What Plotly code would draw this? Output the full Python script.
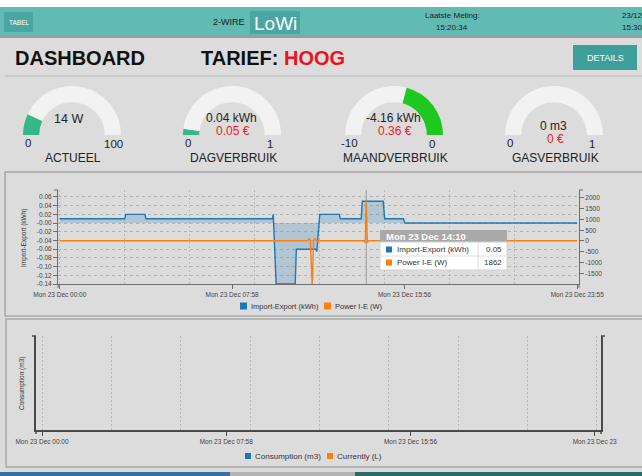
import plotly.graph_objects as go

W, H = 642, 476
FONT = "Liberation Sans, Arial, sans-serif"

# ---------------- data ----------------
gauge_names = ["ACTUEEL", "DAGVERBRUIK", "MAANDVERBRUIK", "GASVERBRUIK"]
gauge_values = [14, 0.04, -4.16, 0]
gauge_min = [0, 0, -10, 0]
gauge_max = [100, 1, 0, 1]
gauge_min_labels = ["0", "0", "-10", "0"]
gauge_max_labels = ["100", "1", "0", "1"]
gauge_texts = ["14 W", "0.04 kWh", "-4.16 kWh", "0 m3"]
gauge_costs = ["", "0.05 €", "0.36 €", "0 €"]
gauge_colors = ["#34b888", "#34b888", "#1ec81e", "#34b888"]

imp_times = ["2019-12-23 00:00", "2019-12-23 03:00", "2019-12-23 03:03", "2019-12-23 03:56",
             "2019-12-23 03:59", "2019-12-23 09:50", "2019-12-23 09:52", "2019-12-23 10:00",
             "2019-12-23 10:53", "2019-12-23 10:56", "2019-12-23 11:50", "2019-12-23 11:53",
             "2019-12-23 12:01", "2019-12-23 12:55", "2019-12-23 12:58", "2019-12-23 13:56",
             "2019-12-23 13:59", "2019-12-23 14:57", "2019-12-23 15:01", "2019-12-23 15:53",
             "2019-12-23 15:57", "2019-12-23 23:55"]
imp_vals = [0.01, 0.01, 0.02, 0.02, 0.01, 0.01, 0.02, -0.14, -0.14, -0.06, -0.06, -0.065,
            0.02, 0.02, 0.01, 0.01, 0.05, 0.05, 0.01, 0.01, 0.0, 0.0]

pow_times = ["2019-12-23 00:00", "2019-12-23 11:28", "2019-12-23 11:32", "2019-12-23 11:35",
             "2019-12-23 11:40", "2019-12-23 11:44", "2019-12-23 11:48", "2019-12-23 11:51",
             "2019-12-23 14:04", "2019-12-23 14:07", "2019-12-23 14:10", "2019-12-23 14:13",
             "2019-12-23 14:16", "2019-12-23 23:55"]
pow_vals = [10, 10, 120, 10, -2100, 10, 120, 10, 10, -90, 1862, -90, 10, 10]

x1_ticks = ["2019-12-23 00:00", "2019-12-23 07:58", "2019-12-23 15:56", "2019-12-23 23:55"]
x1_ticktext = ["Mon 23 Dec 00:00", "Mon 23 Dec 07:58", "Mon 23 Dec 15:56", "Mon 23 Dec 23:55"]
x2_ticks = ["2019-12-23 00:00", "2019-12-23 07:58", "2019-12-23 15:56", "2019-12-23 23:54"]
x2_ticktext = ["Mon 23 Dec 00:00", "Mon 23 Dec 07:58", "Mon 23 Dec 15:56", "Mon 23 Dec 23"]
y1_ticks = [0.06, 0.04, 0.02, 0.0, -0.02, -0.04, -0.06, -0.08, -0.10, -0.12, -0.14]
y1_ticktext = ["0.06", "0.04", "0.02", "-0.00", "-0.02", "-0.04", "-0.06", "-0.08", "-0.10", "-0.12", "-0.14"]
y2_ticks = [2000, 1500, 1000, 500, 0, -500, -1000, -1500]
y2_ticktext = ["2000", "1500", "1000", "500", "0", "-500", "-1000", "-1500"]

hover_time = "2019-12-23 14:10"
hover_rows = [("Import-Export (kWh)", "0.05", "#1f77b4"), ("Power I-E (W)", "1862", "#ff7f0e")]

# ---------------- helpers ----------------
shapes, annotations = [], []


def px(x):
    return x / W


def py(y):
    return 1 - y / H


def rect(x0, y0, x1, y1, fill, line=None, lw=0, layer="below"):
    shapes.append(dict(type="rect", xref="paper", yref="paper", x0=px(x0), x1=px(x1),
                       y0=py(y1), y1=py(y0), fillcolor=fill,
                       line=dict(width=lw, color=line or fill), layer=layer))


def hline(x0, x1, y, color, lw=1, layer="below"):
    shapes.append(dict(type="line", xref="paper", yref="paper", x0=px(x0), x1=px(x1),
                       y0=py(y), y1=py(y), line=dict(width=lw, color=color), layer=layer))


def vline(x, y0, y1, color, lw=1, layer="below"):
    shapes.append(dict(type="line", xref="paper", yref="paper", x0=px(x), x1=px(x),
                       y0=py(y0), y1=py(y1), line=dict(width=lw, color=color), layer=layer))


def ann(x, y, text, size, color="#222", xanchor="center", family=FONT, angle=0):
    annotations.append(dict(x=px(x), y=py(y), xref="paper", yref="paper", text=text,
                            showarrow=False, xanchor=xanchor, yanchor="middle", textangle=angle,
                            font=dict(size=size, color=color, family=family)))


BG = "#dcdcdc"

# ---------------- page chrome ----------------
rect(0, 0, 642, 7, "#ffffff")
rect(0, 7, 642, 36, "#62bab5")
hline(0, 642, 37, "#9a9a9a", 2)
rect(4, 12, 33, 32, "#4ba5a1")
ann(18.5, 22, "TABEL", 6.5, "#ffffff")
ann(229, 22, "2-WIRE", 9, "#1a1a1a")
rect(250, 11, 300, 34, "#4ba5a1")
ann(275, 23, "LoWi", 19, "#ffffff")
ann(452, 16, "Laatste Meting:", 8, "#1a1a1a")
ann(452, 27, "15:20:34", 8, "#1a1a1a")
ann(620, 16, "23/12", 8, "#1a1a1a", xanchor="left")
ann(620, 27, "15:30", 8, "#1a1a1a", xanchor="left")

ann(13, 58, "<b>DASHBOARD</b>", 20, "#111111", xanchor="left")
ann(199, 58, "<b>TARIEF: <span style='color:#e8141c'>HOOG</span></b>", 20, "#111111", xanchor="left")
rect(573, 45, 637, 70, "#3e9e9a")
ann(605, 57.5, "DETAILS", 9, "#ffffff")
hline(5, 642, 76, "#c2c2c2", 1.5)

# panels
rect(5, 172, 660, 316, BG, "#a8a8a8", 1.5)
rect(6, 319, 660, 467, BG, "#a8a8a8", 1.5)

# bottom bar
rect(0, 472, 230, 476, "#3a6ea6")
rect(230, 472, 355, 476, "#b4b4b4")
rect(355, 472, 642, 476, "#2d6b6b")

fig = go.Figure()

# ---------------- gauges ----------------
g_cx = [72, 232, 394, 554]
g_cy, g_r = 135, 49
for i in range(4):
    lo_v, hi_v = gauge_min[i], gauge_max[i]
    anchor = min(max(0, lo_v), hi_v)
    a, b = min(anchor, gauge_values[i]), max(anchor, gauge_values[i])
    vals = [a - lo_v, b - a, hi_v - b, hi_v - lo_v]
    fig.add_trace(go.Pie(
        values=vals, sort=False, direction="clockwise", rotation=-90, hole=0.67,
        marker=dict(colors=["#f2f2f2", gauge_colors[i], "#f2f2f2", "rgba(0,0,0,0)"],
                    line=dict(width=0)),
        textinfo="none", hoverinfo="skip", showlegend=False,
        domain=dict(x=[px(g_cx[i] - g_r), px(g_cx[i] + g_r)],
                    y=[py(g_cy + g_r), py(g_cy - g_r)])))
    cx = g_cx[i]
    if gauge_costs[i]:
        ann(cx - 1, 118 if i < 3 else 126, gauge_texts[i], 12, "#222")
        ann(cx + 1, 131 if i < 3 else 139, gauge_costs[i], 12, "#ee1c24")
    else:
        ann(cx - 4, 119, gauge_texts[i], 12.5, "#222")
    ann(cx - 44, 143, gauge_min_labels[i], 11.5, "#222")
    ann(cx + 38 + (3 if len(gauge_max_labels[i]) > 1 else 0), 144, gauge_max_labels[i], 11.5, "#222")
    ann(cx + 1, 158, gauge_names[i], 12, "#222")

# ---------------- chart 1 ----------------
fig.add_trace(go.Scatter(x=imp_times, y=imp_vals, name="Import-Export (kWh)", mode="lines",
                         line=dict(color="#1f77b4", width=1.4), fill="tozeroy",
                         fillcolor="rgba(31,119,180,0.22)", xaxis="x", yaxis="y",
                         showlegend=False, hoverinfo="skip"))
fig.add_trace(go.Scatter(x=pow_times, y=pow_vals, name="Power I-E (W)", mode="lines",
                         line=dict(color="#ff7f0e", width=1.4), xaxis="x", yaxis="y2",
                         showlegend=False, hoverinfo="skip"))

# chart 2 (no data)
fig.add_trace(go.Scatter(x=[], y=[], name="Consumption (m3)", mode="lines",
                         line=dict(color="#1f77b4"), xaxis="x2", yaxis="y3", showlegend=False))
fig.add_trace(go.Scatter(x=[], y=[], name="Currently (L)", mode="lines",
                         line=dict(color="#ff7f0e"), xaxis="x2", yaxis="y4", showlegend=False))

# crosshair at hover point
shapes.append(dict(type="line", xref="x", yref="y domain", x0=hover_time, x1=hover_time,
                   y0=0, y1=1, line=dict(color="#9a9a9a", width=1), layer="below"))

# axis end caps (d3-style domain paths)
hline(54, 58, 190, "#6e6e6e", 1)
hline(579, 583, 190, "#6e6e6e", 1)
vline(58, 284, 288, "#6e6e6e", 1)
vline(579, 284, 288, "#6e6e6e", 1)
hline(32, 36, 336, "#4a4a4a", 1.5)
hline(601, 605, 336, "#4a4a4a", 1.5)
vline(36, 430, 434, "#4a4a4a", 1.5)
vline(601, 430, 434, "#4a4a4a", 1.5)

# tooltip
rect(380, 230, 507, 242, "#a9a9a9", layer="above")
rect(380, 242, 507, 270, "#ffffff", "#d0d0d0", 1, layer="above")
hline(380, 507, 256, "#dddddd", 1, layer="above")
vline(478, 242, 270, "#dddddd", 1, layer="above")
ann(384, 236.5, "<b>Mon 23 Dec 14:10</b>", 9.5, "#ffffff", xanchor="left")
for k, (lab, val, col) in enumerate(hover_rows):
    yy = 249.5 + 13 * k
    rect(386, yy - 3, 392, yy + 3, col, layer="above")
    ann(395, yy, lab, 8, "#333333", xanchor="left")
    ann(504, yy, val, 8, "#333333", xanchor="right")

# legends (square swatches)
rect(240, 302.5, 247, 309.5, "#1f77b4")
ann(249, 306, "Import-Export (kWh)", 7.5, "#333333", xanchor="left")
rect(324, 302.5, 331, 309.5, "#ff7f0e")
ann(333, 306, "Power I-E (W)", 7.5, "#333333", xanchor="left")

rect(245, 453, 251, 459, "#1f77b4")
ann(253, 456, "Consumption (m3)", 8, "#333333", xanchor="left")
rect(327, 453, 333, 459, "#ff7f0e")
ann(335, 456, "Currently (L)", 8, "#333333", xanchor="left")

# axis titles
ann(24, 237, "Import-Export (kWh)", 6.5, "#333333", angle=-90)
ann(22, 383, "Consumption (m3)", 6.5, "#333333", angle=-90)

tickfont = dict(size=6.5, color="#444444", family=FONT)
mgrid_x = dict(tickmode="linear", tick0="2019-12-23 00:00", dtick=3 * 3600 * 1000,
               showgrid=True, gridcolor="#b9b9b9", griddash="2px,2px", gridwidth=1, ticklen=0)

fig.update_layout(
    width=W, height=H, margin=dict(l=0, r=0, t=0, b=0, pad=0, autoexpand=False),
    paper_bgcolor=BG, plot_bgcolor="rgba(0,0,0,0)", showlegend=False,
    font=dict(family=FONT),
    shapes=shapes, annotations=annotations,
    xaxis=dict(domain=[px(58), px(579)], anchor="y", type="date",
               range=["2019-12-22 23:55", "2019-12-24 00:00"],
               tickmode="array", tickvals=x1_ticks, ticktext=x1_ticktext,
               showgrid=False, zeroline=False, showline=True, linecolor="#6e6e6e", linewidth=1,
               ticks="outside", ticklen=4, tickcolor="#6e6e6e", tickfont=tickfont,
               minor=mgrid_x),
    yaxis=dict(domain=[py(284), py(190)], anchor="x", range=[-0.14, 0.076],
               tickmode="array", tickvals=y1_ticks, ticktext=y1_ticktext,
               showgrid=True, gridcolor="#b4b4b4", griddash="3px,3px", zeroline=False,
               showline=True, linecolor="#6e6e6e", linewidth=1,
               ticks="outside", ticklen=4, tickcolor="#6e6e6e", tickfont=tickfont),
    yaxis2=dict(overlaying="y", side="right", anchor="x", range=[-2000, 2370],
                tickmode="array", tickvals=y2_ticks, ticktext=y2_ticktext,
                showgrid=False, zeroline=False, showline=True, linecolor="#6e6e6e", linewidth=1,
                ticks="outside", ticklen=4, tickcolor="#6e6e6e", tickfont=tickfont),
    xaxis2=dict(domain=[px(36), px(601)], anchor="y3", type="date",
                range=["2019-12-22 23:44:24", "2019-12-24 00:10:24"],
                tickmode="array", tickvals=x2_ticks, ticktext=x2_ticktext,
                showgrid=False, zeroline=False, showline=True, linecolor="#4a4a4a", linewidth=1.5,
                ticks="outside", ticklen=4, tickcolor="#4a4a4a", tickfont=tickfont,
                minor=mgrid_x),
    yaxis3=dict(domain=[py(430), py(336)], anchor="x2", range=[0, 1],
                showticklabels=False, ticks="", showgrid=False, zeroline=False,
                showline=True, linecolor="#4a4a4a", linewidth=1.5),
    yaxis4=dict(overlaying="y3", side="right", anchor="x2", range=[0, 1],
                showticklabels=False, ticks="", showgrid=False, zeroline=False,
                showline=True, linecolor="#4a4a4a", linewidth=1.5),
)

fig.write_html("out.html", config={"displayModeBar": False},
               post_script="document.body.style.margin='0px';document.body.style.overflow='hidden';")
